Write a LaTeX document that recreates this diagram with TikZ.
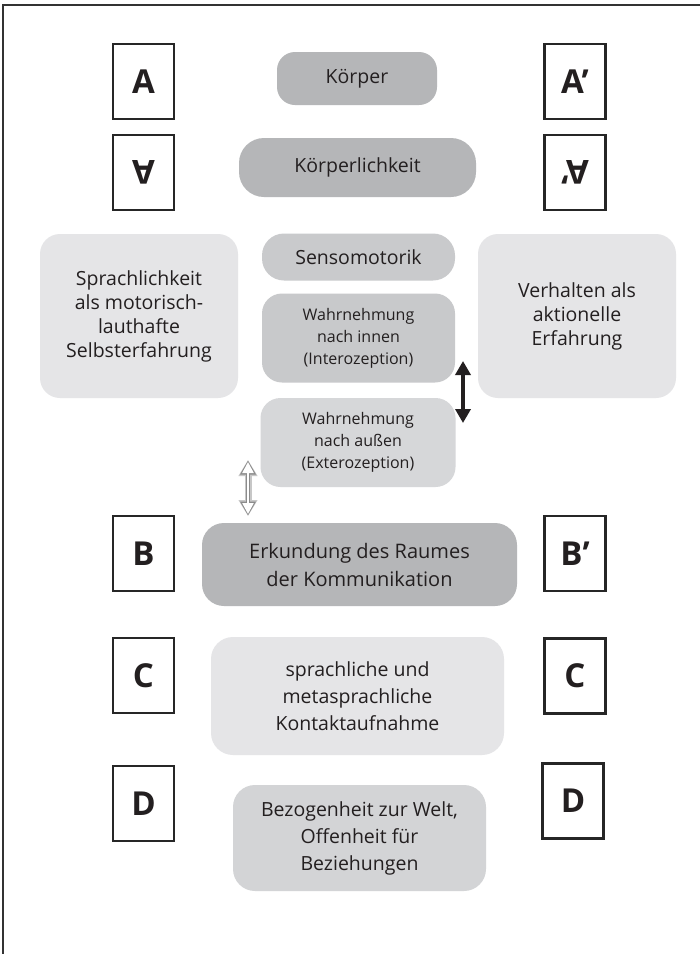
\documentclass[tikz,border=0pt]{standalone}
\usepackage{fontspec}
\setmainfont{Open Sans}
\usetikzlibrary{arrows.meta}
\definecolor{txt}{HTML}{231F20}
\definecolor{gdark}{HTML}{B5B6B8}
\definecolor{gsenso}{HTML}{C9CACC}
\definecolor{ginnen}{HTML}{C8C9CB}
\definecolor{gaussen}{HTML}{D6D7D9}
\definecolor{glight}{HTML}{E5E5E7}
\definecolor{gbez}{HTML}{D3D4D6}
\tikzset{
  letterbox/.style={draw=black!85, line width=2.4pt, minimum width=61pt, minimum height=75pt, inner sep=0pt, text=txt, font=\bfseries\fontsize{33}{38}\selectfont},
  rbox/.style={rounded corners=#1, inner sep=0pt, align=center, text=txt},
  big/.style={font=\fontsize{19.5}{24}\selectfont},
  small/.style={font=\fontsize{16}{22}\selectfont},
}
\begin{document}
\begin{tikzpicture}[x=1pt,y=-1pt]
\useasboundingbox (0,0) rectangle (700,954);
\fill[white] (0,0) rectangle (700,954);
% frame
\draw[black!80, line width=1.6pt] (3,954) -- (3,5) -- (700,5);

% letter boxes
\node[letterbox] (A) at (143.5,81.5) {A};
\node[letterbox, rotate=180] (Ar) at (143.5,172.5) {A};
\node[letterbox] (Ap) at (575,81.5) {A’};
\node[letterbox, rotate=180] (Apr) at (575,172.5) {A’};
\node[letterbox] (B) at (143.5,553.5) {B};
\node[letterbox] (Bp) at (575,553.5) {B’};
\node[letterbox] (C) at (143.5,675.5) {C};
\node[letterbox] (Cr) at (575,676) {C};
\node[letterbox] (D) at (143.5,803.5) {D};
\node[letterbox] (Dr) at (573,801) {D};

% rounded boxes
\node[rbox=18pt, big, fill=gdark, minimum width=160pt, minimum height=53pt] (koerper) at (357,78.5) {Körper};
\node[rbox=25pt, big, fill=gdark, minimum width=237pt, minimum height=59pt] (koerperl) at (357.5,167.5) {Körperlichkeit};
\node[rbox=20pt, big, fill=glight, minimum width=198pt, minimum height=164pt] (sprachl) at (139,316) {Sprachlichkeit\\als motorisch-\\lauthafte\\Selbsterfahrung};
\node[rbox=20pt, big, fill=glight, minimum width=198pt, minimum height=164pt] (verhalten) at (577,316) {Verhalten als\\aktionelle\\Erfahrung};
\node[rbox=22pt, big, fill=gsenso, minimum width=193pt, minimum height=47pt] (senso) at (358.5,257) {Sensomotorik};
\node[rbox=20pt, small, fill=ginnen, minimum width=193pt, minimum height=89pt] (innen) at (358.5,338) {Wahrnehmung\\nach innen\\(Interozeption)};
\node[rbox=20pt, small, fill=gaussen, minimum width=195pt, minimum height=89pt] (aussen) at (358,442.5) {Wahrnehmung\\nach außen\\(Exterozeption)};
\node[rbox=22pt, font=\fontsize{20}{28}\selectfont, fill=gdark, minimum width=315pt, minimum height=83pt] (erk) at (359.5,564.5) {Erkundung des Raumes\\der Kommunikation};
\node[rbox=22pt, font=\fontsize{19.5}{27}\selectfont, fill=glight, minimum width=293pt, minimum height=118pt] (kontakt) at (357.5,696) {sprachliche und\\metasprachliche\\Kontaktaufnahme};
\node[rbox=22pt, font=\fontsize{19.5}{27}\selectfont, fill=gbez, minimum width=253pt, minimum height=106pt] (bez) at (359.5,838) {Bezogenheit zur Welt,\\Offenheit für\\Beziehungen};

% arrows
\coordinate (b1) at (463,361);
\coordinate (b2) at (463,423);
\draw[txt, line width=3.6pt, {Triangle[length=14pt,width=15pt]}-{Triangle[length=14pt,width=15pt]}] (b1) -- (b2);
\coordinate (w1) at (248,460);
\coordinate (w2) at (248,516);
\draw[black!22, line width=7pt, {Triangle[length=16pt,width=18pt]}-{Triangle[length=16pt,width=18pt]}] (w1) -- (w2);
\draw[black!45, line width=4.4pt, shorten <=0.5pt, shorten >=0.5pt, {Triangle[length=14pt,width=15pt]}-{Triangle[length=14pt,width=15pt]}] (w1) -- (w2);
\draw[white, line width=2.4pt, shorten <=2pt, shorten >=2pt, {Triangle[length=11pt,width=11pt]}-{Triangle[length=11pt,width=11pt]}] (w1) -- (w2);
\end{tikzpicture}
\end{document}
